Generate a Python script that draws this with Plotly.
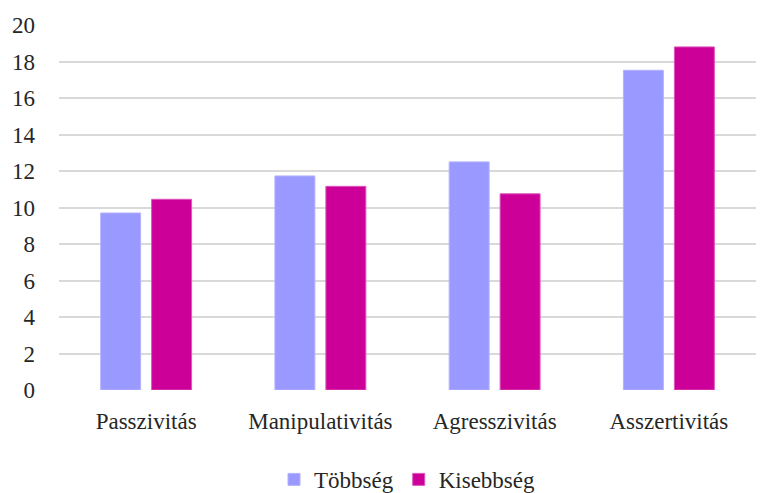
import plotly.graph_objects as go

kategoriak = ['Passzivitás', 'Manipulativitás', 'Agresszivitás', 'Asszertivitás']
tobbseg = [9.7, 11.73, 12.5, 17.52]
kisebbseg = [10.45, 11.16, 10.75, 18.8]

betu = 'Liberation Serif, Times New Roman, serif'

fig = go.Figure(data=[
    go.Bar(name='Többség', x=kategoriak, y=tobbseg, marker_color='#9999FF',
           marker_line=dict(color='#b3b3ff', width=1)),
    go.Bar(name='Kisebbség', x=kategoriak, y=kisebbseg, marker_color='#CC0099',
           marker_line=dict(color='#dd55bb', width=1)),
])

# the page has an 8px body margin, so the figure is a bit smaller than the window
fig.update_layout(
    width=757, height=485,
    barmode='group', bargap=0.415, bargroupgap=0.216,
    plot_bgcolor='white', paper_bgcolor='white',
    font=dict(family=betu, size=23, color='#262626'),
    margin=dict(l=51, r=9, t=17, b=103, autoexpand=False),
    legend=dict(orientation='h', x=0.5, xanchor='center', y=-0.245, yanchor='middle',
                font=dict(family=betu, size=23, color='#262626'),
                itemwidth=30, traceorder='normal'),
    showlegend=True,
)
fig.update_yaxes(range=[0, 20], dtick=2, gridcolor='#d9d9d9', gridwidth=2,
                 zeroline=False, showline=False, ticks='', ticklabelstandoff=23)
fig.update_xaxes(showline=False, ticks='', ticklabelstandoff=15)

fig.write_html("out.html")
